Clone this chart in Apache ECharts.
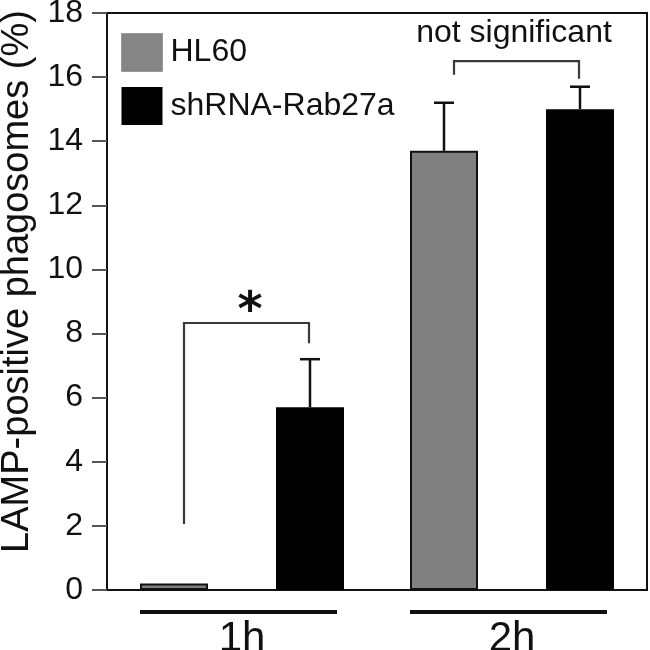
<!DOCTYPE html>
<html><head><meta charset="utf-8">
<script src="https://cdn.jsdelivr.net/npm/echarts@6/dist/echarts.min.js"></script>
<style>html,body{margin:0;padding:0;background:#fff}#c{width:650px;height:650px}</style>
</head><body><div id="c"></div>
<script>
// ---- data ----
const categories = ['1h', '2h'];
const seriesNames = ['HL60', 'shRNA-Rab27a'];
const hl60 = [0.2, 13.7];
const shrna = [5.7, 15.0];
const hl60ErrTop = [null, 15.2];
const shrnaErrTop = [7.2, 15.7];
const yMin = 0, yMax = 18, yInterval = 2;
// brackets: [category index, left leg bottom, bracket top, right leg bottom]
const brackets = [[0, 2.06, 8.33, 7.7], [1, 16.07, 16.5, 15.95]];
const bracketLabels = ['*', 'not significant'];
const yAxisName = 'LAMP-positive phagosomes (%)';

// ---- styles ----
const FONT = 'Liberation Sans';
const BW = 68;

function errSeries(name, tops, side) {
  const data = [];
  tops.forEach((t, i) => { if (t !== null) data.push([i, t, side === 0 ? hl60[i] : shrna[i]]); });
  return {
    type: 'custom', name: name + ' err', z: 5, data: data,
    renderItem: function (params, api) {
      const top = api.coord([api.value(0), api.value(1)]);
      const base = api.coord([api.value(0), api.value(2)]);
      const x = top[0] + (side === 0 ? -BW : BW);
      return { type: 'group', children: [
        { type: 'line', shape: { x1: x, y1: base[1], x2: x, y2: top[1] }, style: { stroke: '#111', lineWidth: 2.5 } },
        { type: 'line', shape: { x1: x - 10, y1: top[1], x2: x + 10, y2: top[1] }, style: { stroke: '#111', lineWidth: 2.5 } }
      ]};
    }
  };
}

const chart = echarts.init(document.getElementById('c'), null, { renderer: 'canvas' });
chart.setOption({
  animation: false,
  backgroundColor: '#fff',
  grid: { left: 107, right: 3, top: 13, bottom: 60, containLabel: false, outerBoundsMode: 'none',
    show: true, borderColor: '#111', borderWidth: 2 },
  legend: {
    orient: 'vertical', left: 121, top: 33, padding: 0, itemWidth: 41, itemHeight: 38, itemGap: 15,
    icon: 'rect', selectedMode: false,
    textStyle: { fontFamily: FONT, fontSize: 32, color: '#111', padding: [0, 0, 0, 3] },
    data: [
      { name: seriesNames[0], itemStyle: { color: '#858585', borderColor: '#9a9a9a', borderWidth: 1 } },
      { name: seriesNames[1], itemStyle: { color: '#000', borderWidth: 0 } }
    ]
  },
  xAxis: {
    type: 'category', data: categories,
    axisLine: { show: true, lineStyle: { color: '#111', width: 2 } },
    axisTick: { show: false },
    axisLabel: { fontFamily: FONT, fontSize: 42, color: '#111', margin: 28 }
  },
  yAxis: {
    type: 'value', min: yMin, max: yMax, interval: yInterval,
    name: yAxisName, nameLocation: 'middle', nameGap: 62,
    nameTextStyle: { fontFamily: FONT, fontSize: 38, color: '#111', padding: [0, 0, 0, 40] },
    axisLine: { show: true, lineStyle: { color: '#111', width: 2 } },
    axisTick: { show: true, inside: false, length: 15, lineStyle: { color: '#555', width: 2 } },
    axisLabel: { fontFamily: FONT, fontSize: 32, color: '#111', margin: 24 },
    splitLine: { show: false }
  },
  series: [
    { type: 'bar', name: seriesNames[0], data: hl60, barWidth: BW, barGap: '100%',
      itemStyle: { color: '#808080', borderColor: '#111', borderWidth: 2 } },
    { type: 'bar', name: seriesNames[1], data: shrna, barWidth: BW, barGap: '100%',
      itemStyle: { color: '#000', borderColor: '#000', borderWidth: 2 } },
    errSeries(seriesNames[0], hl60ErrTop, 0),
    errSeries(seriesNames[1], shrnaErrTop, 1),
    {
      type: 'custom', name: 'brackets', z: 6, data: brackets,
      renderItem: function (params, api) {
        const cat = api.value(0);
        const lb = api.coord([cat, api.value(1)]);
        const tp = api.coord([cat, api.value(2)]);
        const rb = api.coord([cat, api.value(3)]);
        const lx = tp[0] - BW + 10, rx = tp[0] + BW - 1;
        const label = bracketLabels[params.dataIndex];
        const isStar = label === '*';
        return { type: 'group', children: [
          { type: 'polyline', shape: { points: [[lx, lb[1]], [lx, tp[1]], [rx, tp[1]], [rx, rb[1]]] },
            style: { stroke: '#3a3a3a', lineWidth: 2.2, fill: null } },
          { type: 'text', x: tp[0] + (isStar ? 8 : 2), y: tp[1] + (isStar ? 14 : -12),
            style: { text: label, textAlign: 'center', textVerticalAlign: 'bottom',
              fontFamily: isStar ? 'DejaVu Sans' : FONT, fontWeight: isStar ? 'bold' : 'normal',
              fontSize: isStar ? 48 : 32, fill: '#111' } }
        ]};
      }
    },
    {
      type: 'custom', name: 'groupLines', z: 6, clip: false, data: categories.map((c, i) => [i, 0]),
      renderItem: function (params, api) {
        const p = api.coord([api.value(0), 0]);
        return { type: 'line', shape: { x1: p[0] - 102, y1: p[1] + 22, x2: p[0] + 95, y2: p[1] + 22 },
          style: { stroke: '#111', lineWidth: 4 } };
      }
    }
  ]
});
</script></body></html>
